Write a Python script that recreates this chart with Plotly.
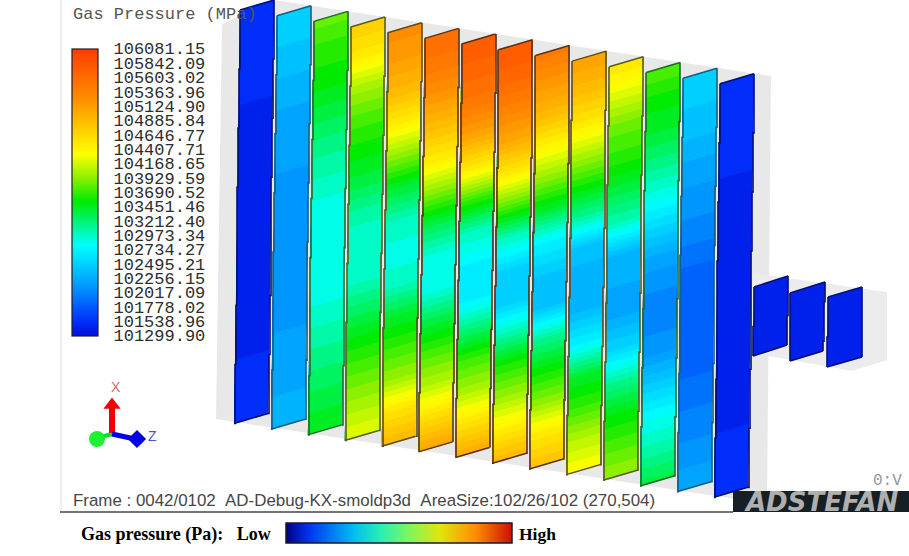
import plotly.graph_objects as go

# Colour-bar labels (Pa, as printed in the picture)
tick_labels = ["106081.15","105842.09","105603.02","105363.96","105124.90","104885.84","104646.77",
               "104407.71","104168.65","103929.59","103690.52","103451.46","103212.40","102973.34",
               "102734.27","102495.21","102256.15","102017.09","101778.02","101538.96","101299.90"]
P_LOW, P_HIGH = 101299.90, 106081.15

# Pressure read top-to-bottom on each plate, as percent of the colour-bar range
plate_01 = [5,5,4.5,4,4,4,4,4,4,4,4,4,4.5,5]
plate_02 = [25,24,22,20,19,18,17,17,17,17,18,19,20,22]
plate_03 = [53,49,47,43,39,36,33,32,33,34,37,40,43,46]
plate_04 = [72,67,57,51,47,43,37,34,35,41,47,52,57,62]
plate_05 = [83,80,75,66,55,44,36,33,35,44,50,56,68,76]
plate_06 = [90,87,81,74,66,54,42,33,33,43,51,58,69,79]
plate_07 = [94,91,87,79,67,50,36,30,28,39,50,57,68,78]
plate_08 = [94,91,85,78,67,52,36,26,24,36,48,56,66,76]
plate_09 = [87,81,75,65,55,44,30,24,23,38,47,55,67,74]
plate_10 = [80,75,68,58,48,38,23,21,22,30,44,50,58,64]
plate_11 = [68,61,53,49,43,36,22,20,20,26,38,46,51,56]
plate_12 = [52,47,44,39,33,26,19,16,15,18,25,32,37,43]
plate_13 = [26,24,22,19,17,15,12,11,10,11,13,15,17,20]
plate_14 = [5,5,4.5,4,4,4,3.5,3.5,3.5,3.5,4,4,4.5,5]
plates = [plate_01,plate_02,plate_03,plate_04,plate_05,plate_06,plate_07,
          plate_08,plate_09,plate_10,plate_11,plate_12,plate_13,plate_14]
small_plate_01 = [3.5,3.4,3.4,3.5]
small_plate_02 = [3.5,3.4,3.4,3.5]
small_plate_03 = [3.5,3.4,3.4,3.5]

# Projected corners of the plates on screen
FIRST_TL, STEP = (240.0, 10.0), (36.92, 5.68)
PLATE_W, PLATE_RISE, PLATE_H, PLATE_SHEAR = 34.0, 10.0, 413.5, -6.0
small_corners = [((754,287),(788,276),(787,345),(753,356)),
                 ((790,293),(825,282),(823,351),(790,361)),
                 ((828,297),(862,287),(862,357),(827,367))]
edge_colors = ["#00106e","#12607e","#1d6a2a","#5a5a1e","#5e4a1c","#5a3418","#5a2c14",
               "#5a2c14","#5a3418","#5e4a1c","#5a5a1e","#1d6a2a","#12607e","#00106e"]

scale = [[0,"rgb(0,16,215)"],[.05,"rgb(0,45,250)"],[.17,"rgb(0,150,255)"],[.316,"rgb(0,255,255)"],
         [.47,"rgb(0,235,0)"],[.55,"rgb(140,240,0)"],[.635,"rgb(255,255,0)"],[.83,"rgb(255,140,0)"],
         [1,"rgb(255,60,0)"]]
low_high_scale = [[0,"rgb(0,0,130)"],[.1,"rgb(0,50,240)"],[.3,"rgb(0,190,240)"],[.42,"rgb(40,240,180)"],
                  [.55,"rgb(130,245,90)"],[.68,"rgb(225,230,10)"],[.84,"rgb(255,140,0)"],[1,"rgb(205,15,0)"]]
GREY = "rgb(232,232,232)"
fig = go.Figure()

def back_shape(pts, color):
    path = "M" + " L".join(f"{p[0]},{p[1]}" for p in pts) + " Z"
    fig.add_shape(type="path", path=path, xref="x", yref="y", fillcolor=color, line=dict(width=0), layer="below")

def polygon(pts, color):
    fig.add_trace(go.Scatter(x=[p[0] for p in pts], y=[p[1] for p in pts], mode="lines",
                             fill="toself", fillcolor=color, line=dict(width=0), hoverinfo="skip"))

back_shape([(222,24),(274,0),(771,76),(767,504),(216,419)], GREY)
back_shape([(752,273),(887,292),(887,360),(852,371),(753,353)], "rgb(236,236,236)")

def stepped(a, b, n=7):
    xs, ys = [], []
    for k in range(n + 1):
        xs.append(round(a[0] + (b[0]-a[0])*k/n)); ys.append(a[1] + (b[1]-a[1])*k/n)
    return xs, ys

def plate(name, corners, levels, edge):
    tl, tr, br, bl = corners
    n = len(levels)
    b = list(range(n))
    xg, yg, z = [], [], []
    for i in b:
        f = i / (n - 1)
        xg.append([tl[0]+(bl[0]-tl[0])*f, tr[0]+(br[0]-tr[0])*f])
        yg.append([tl[1]+(bl[1]-tl[1])*f, tr[1]+(br[1]-tr[1])*f])
        v = P_LOW + levels[i]/100*(P_HIGH-P_LOW)
        z.append([v, v])
    ax = dict(startline=False, endline=False, showticklabels="none", showgrid=False,
              smoothing=0, minorgridcount=0, linewidth=0)
    fig.add_trace(go.Carpet(carpet=name, a=[0,1], b=b, x=xg, y=yg, aaxis=ax, baxis=ax))
    fig.add_trace(go.Contourcarpet(carpet=name, a=[0,1], b=b, z=z, zmin=P_LOW, zmax=P_HIGH,
                  colorscale=scale, showscale=False, autocontour=False, line=dict(width=0),
                  contours=dict(start=P_LOW, end=P_HIGH, size=(P_HIGH-P_LOW)/50,
                                coloring="fill", showlines=False)))
    lx, ly = stepped(tl, bl); rx, ry = stepped(tr, br)
    for xs, ys, sh in ((lx, ly, "vh"), (rx, ry, "vh")):
        fig.add_trace(go.Scatter(x=xs, y=ys, mode="lines", line=dict(color=edge, width=1.6, shape=sh), hoverinfo="skip"))
    fig.add_trace(go.Scatter(x=[tl[0],tr[0]], y=[tl[1],tr[1]], mode="lines", line=dict(color=edge, width=1.5), hoverinfo="skip"))
    fig.add_trace(go.Scatter(x=[bl[0],br[0]], y=[bl[1],br[1]], mode="lines", line=dict(color=edge, width=1.5), hoverinfo="skip"))

for i, levels in enumerate(plates):
    x0, y0 = FIRST_TL[0]+STEP[0]*i, FIRST_TL[1]+STEP[1]*i
    corners = ((x0,y0),(x0+PLATE_W,y0-PLATE_RISE),(x0+PLATE_W+PLATE_SHEAR,y0-PLATE_RISE+PLATE_H),(x0+PLATE_SHEAR,y0+PLATE_H))
    plate(f"p{i}", corners, levels, edge_colors[i])
for i, levels in enumerate([small_plate_01, small_plate_02, small_plate_03]):
    plate(f"s{i}", small_corners[i], levels, "#00106e")

# frame lines
fig.add_trace(go.Scatter(x=[61,61], y=[0,512], mode="lines", line=dict(color="rgb(222,222,222)", width=1), hoverinfo="skip"))
fig.add_trace(go.Scatter(x=[60,733], y=[512,512], mode="lines", line=dict(color="rgb(70,70,70)", width=1.6), hoverinfo="skip"))
# logo box
polygon([(733,491),(909,491),(909,512),(733,512)], "rgb(22,32,36)")

# pressure colour bar (real colour axis)
tick_vals = [float(t) for t in tick_labels]
fig.add_trace(go.Scatter(x=[-50,-50], y=[-50,-50], mode="markers", hoverinfo="skip",
    marker=dict(color=[P_LOW,P_HIGH], cmin=P_LOW, cmax=P_HIGH, colorscale=scale, showscale=True,
        colorbar=dict(x=72/909, xanchor="left", y=1-48.5/556, yanchor="top", len=287, lenmode="pixels",
            thickness=26, thicknessmode="pixels", xpad=0, ypad=0, outlinecolor="rgb(30,30,30)", outlinewidth=1.2,
            borderwidth=0, tickmode="array", tickvals=tick_vals, ticktext=tick_labels, ticks="outside",
            ticklen=12, tickcolor="rgba(0,0,0,0)", tickfont=dict(family="Liberation Mono", size=17, color="rgb(45,45,45)")))))
# low/high bar
fig.add_trace(go.Scatter(x=[-50,-50], y=[-50,-50], mode="markers", hoverinfo="skip",
    marker=dict(color=[0,1], cmin=0, cmax=1, colorscale=low_high_scale, showscale=True,
        colorbar=dict(orientation="h", x=286/909, xanchor="left", y=1-523/556, yanchor="top", len=226, lenmode="pixels",
            thickness=20, thicknessmode="pixels", xpad=0, ypad=0, outlinecolor="rgb(25,25,45)", outlinewidth=1.5,
            borderwidth=0, showticklabels=False, ticks=""))))

# axis triad
fig.add_trace(go.Scatter(x=[97,112], y=[438,434], mode="lines", line=dict(color="rgb(0,225,40)", width=4), hoverinfo="skip"))
fig.add_trace(go.Scatter(x=[112,112], y=[433,408], mode="lines", line=dict(color="rgb(240,0,0)", width=6), hoverinfo="skip"))
fig.add_trace(go.Scatter(x=[112,135], y=[434,439], mode="lines", line=dict(color="rgb(0,0,230)", width=5), hoverinfo="skip"))
fig.add_trace(go.Scatter(x=[112], y=[405], mode="markers", marker=dict(symbol="triangle-up", size=15, color="rgb(240,0,0)"), hoverinfo="skip"))
fig.add_trace(go.Scatter(x=[137], y=[439], mode="markers", marker=dict(symbol="diamond", size=14, color="rgb(0,0,230)"), hoverinfo="skip"))
fig.add_trace(go.Scatter(x=[97], y=[439], mode="markers", marker=dict(symbol="circle", size=16, color="rgb(30,240,50)"), hoverinfo="skip"))

def note(x, y, text, family, size, color, anchor="left", bold=False):
    fig.add_annotation(x=x, y=y, xref="x", yref="y", text=f"<b>{text}</b>" if bold else text, showarrow=False,
                       xanchor=anchor, yanchor="middle", align=anchor, borderpad=0,
                       font=dict(family=family, size=size, color=color))

NB = "\u00a0"
note(72, 14, "Gas Pressure (MPa)", "Liberation Mono", 17, "rgb(85,85,85)")
note(116, 387, "X", "Liberation Sans", 14, "rgb(225,100,100)", "center")
note(152, 436, "Z", "Liberation Sans", 14, "rgb(80,80,205)", "center")
note(72, 500, f"Frame : 0042/0102 {NB}AD-Debug-KX-smoldp3d {NB}AreaSize:102/26/102 (270,504)", "Liberation Sans", 16.9, "rgb(70,70,70)")
note(903, 481, "0:V", "Liberation Mono", 16, "rgb(150,150,150)", "right")
note(821, 502, "<i>ADSTEFAN</i>", "DejaVu Sans", 26, "rgb(175,175,175)", "center", True)
note(80, 534, f"Gas pressure (Pa): {NB}{NB}Low", "Liberation Serif", 18, "black", bold=True)
note(518, 534, "High", "Liberation Serif", 17.5, "black", bold=True)

fig.update_layout(width=909, height=556, margin=dict(l=0,r=0,t=0,b=0), showlegend=False,
    paper_bgcolor="white", plot_bgcolor="white",
    xaxis=dict(range=[0,909], visible=False, fixedrange=True),
    yaxis=dict(range=[556,0], visible=False, fixedrange=True))
fig.write_html("out.html", post_script="document.body.style.margin='0';document.body.style.overflow='hidden';",
               config=dict(displayModeBar=False))
